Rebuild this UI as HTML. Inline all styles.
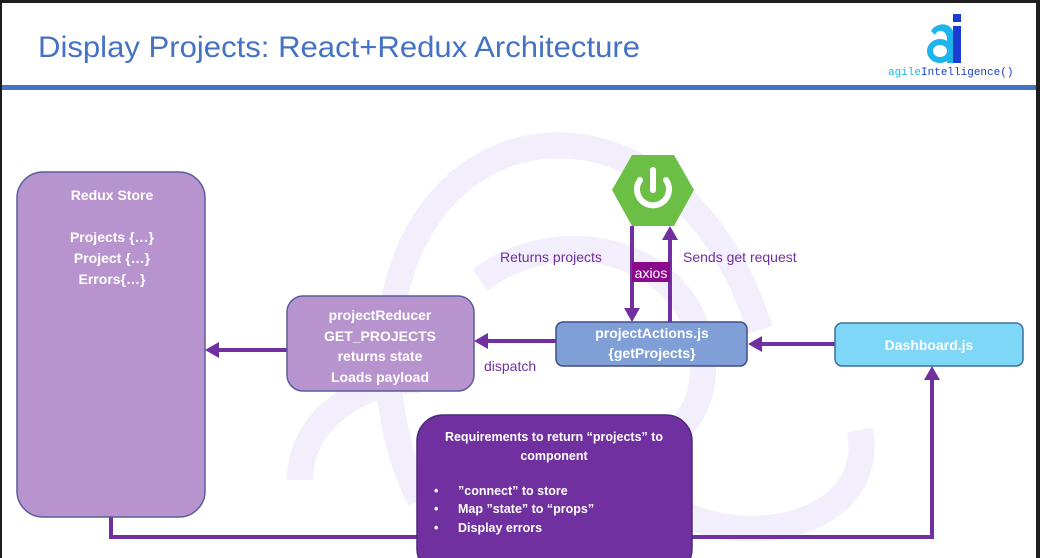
<!DOCTYPE html>
<html><head><meta charset="utf-8"><style>
html,body{margin:0;padding:0;background:#1e1e1e;}
body{width:1040px;height:558px;overflow:hidden;position:relative;}
svg{position:absolute;left:0;top:0;}
</style></head><body>
<svg width="1040" height="558" viewBox="0 0 1040 558" font-family="'Liberation Sans', sans-serif">
<rect x="2" y="3" width="1034" height="555" fill="#ffffff"/>
<!-- ghost redux logo -->
<g fill="none" stroke="#f3eefb" stroke-width="26">
<path d="M420 500 C360 380 380 190 520 150 C620 125 720 200 760 330"/>
<path d="M480 280 C560 220 680 250 700 340 C720 430 640 470 600 440"/>
<path d="M300 480 C300 420 360 380 420 380"/>
<path d="M860 430 C880 540 700 560 640 480"/>
</g>
<!-- header -->
<text x="38" y="57" font-size="30" fill="#4472c4" textLength="602" lengthAdjust="spacingAndGlyphs">Display Projects: React+Redux Architecture</text>
<rect x="2" y="85" width="1034" height="5" fill="#4472c4"/>
<!-- logo -->
<path d="M931 31 C936 22 953 21 954 36 L954 63 L947 63 L947 38 C946 29 937 29 935 35 Z" fill="#1fb5ea"/>
<ellipse cx="940" cy="51" rx="10" ry="9" fill="none" stroke="#1fb5ea" stroke-width="6"/>
<rect x="953" y="26" width="8" height="37" fill="#1a3fd0"/>
<rect x="953" y="14" width="8" height="8" fill="#1a3fd0"/>
<text x="888" y="75" font-size="11" font-family="'Liberation Mono',monospace"><tspan fill="#1fb5ea">agile</tspan><tspan fill="#1a3fd0">Intelligence()</tspan></text>
<!-- connectors -->
<g stroke="#7030a0" stroke-width="4" fill="none">
<polyline points="111,517 111,537 932,537 932,378"/>
<line x1="287" y1="350" x2="218" y2="350"/>
<line x1="556" y1="341" x2="486" y2="341"/>
<line x1="835" y1="344" x2="760" y2="344"/>
<line x1="632" y1="226" x2="632" y2="310"/>
<line x1="670" y1="322" x2="670" y2="238"/>
</g>
<g fill="#7030a0">
<polygon points="205,350 219,342 219,358"/>
<polygon points="474,341 488,333 488,349"/>
<polygon points="748,344 762,336 762,352"/>
<polygon points="932,366 924,380 940,380"/>
<polygon points="632,322 624,308 640,308"/>
<polygon points="670,226 662,240 678,240"/>
</g>
<rect x="632" y="262" width="38" height="20" fill="#8b0a8b"/>
<text x="651" y="278" font-size="14" fill="#fff" text-anchor="middle">axios</text>
<text x="500" y="262" font-size="14" fill="#7030a0">Returns  projects</text>
<text x="683" y="262" font-size="14" fill="#7030a0">Sends get request</text>
<text x="484" y="371" font-size="14" fill="#7030a0">dispatch</text>
<!-- spring -->
<polygon points="612,190 632,155 674,155 694,190 674,226 632,226" fill="#6cbf45"/>
<path d="M640 180 A16 16 0 1 0 666 180" fill="none" stroke="#fff" stroke-width="6" stroke-linecap="round"/>
<line x1="653" y1="170" x2="653" y2="190" stroke="#fff" stroke-width="6" stroke-linecap="round"/>
<!-- boxes -->
<rect x="17" y="172" width="188" height="345" rx="26" fill="#b794ce" stroke="#5b5b9a" stroke-width="1.5"/>
<g fill="#fff" font-weight="bold" font-size="14" text-anchor="middle">
<text x="112" y="200">Redux Store</text>
<text x="112" y="242">Projects {…}</text>
<text x="112" y="263">Project {…}</text>
<text x="112" y="284">Errors{…}</text>
</g>
<rect x="287" y="296" width="187" height="95" rx="16" fill="#b794ce" stroke="#5b5b9a" stroke-width="1.5"/>
<g fill="#fff" font-weight="bold" font-size="14" text-anchor="middle">
<text x="380" y="320">projectReducer</text>
<text x="380" y="341">GET_PROJECTS</text>
<text x="380" y="361">returns state</text>
<text x="380" y="382">Loads payload</text>
</g>
<rect x="556" y="322" width="191" height="44" rx="7" fill="#7f9fd6" stroke="#3f4f8a" stroke-width="1.5"/>
<g fill="#fff" font-weight="bold" font-size="14" text-anchor="middle">
<text x="652" y="338">projectActions.js</text>
<text x="652" y="358">{getProjects}</text>
</g>
<rect x="835" y="323" width="188" height="43" rx="7" fill="#7fd7f7" stroke="#3f6f9a" stroke-width="1.5"/>
<text x="929" y="350" fill="#fff" font-weight="bold" font-size="14" text-anchor="middle">Dashboard.js</text>
<rect x="417" y="415" width="275" height="160" rx="26" fill="#7030a0" stroke="#4a2a7a" stroke-width="1.5"/>
<g fill="#fff" font-weight="bold" font-size="12.5">
<text x="554" y="441" text-anchor="middle">Requirements to return “projects” to</text>
<text x="554" y="460" text-anchor="middle">component</text>
<text x="434" y="495">•</text><text x="458" y="495">”connect” to store</text>
<text x="434" y="513">•</text><text x="458" y="513">Map ”state” to “props”</text>
<text x="434" y="532">•</text><text x="458" y="532">Display errors</text>
</g>
</svg>
</body></html>
